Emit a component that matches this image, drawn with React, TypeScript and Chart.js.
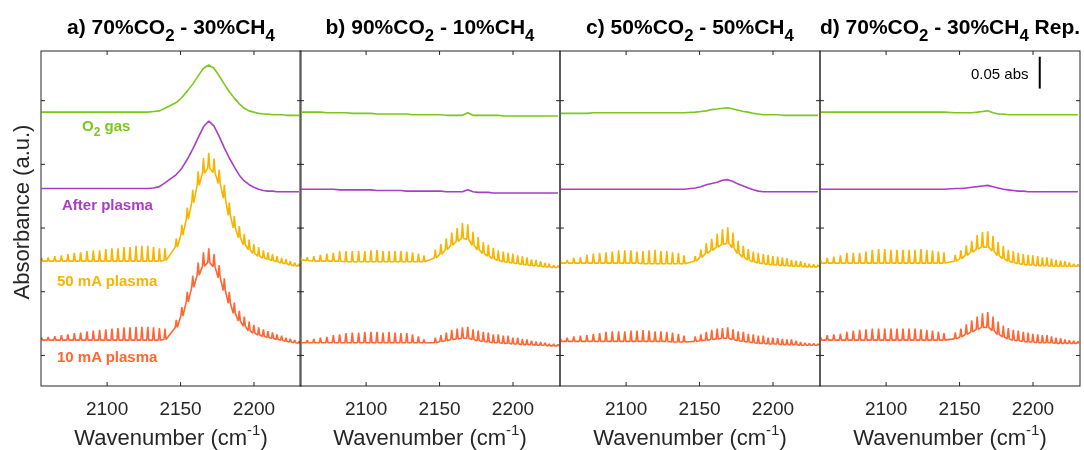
import React, { useEffect, useRef } from 'react';
import { Chart, registerables } from 'chart.js';

Chart.register(...registerables);

const FONT = '"Liberation Sans", Arial, Helvetica, sans-serif';

// ---------- data ----------
// CO rotational line positions (cm-1): P branch (P21..P1) then R branch (R0..R25)
const LINE_POSITIONS = [
  2055.4, 2059.9, 2064.4, 2068.9, 2073.3, 2077.7, 2082.0, 2086.3, 2090.6, 2094.9,
  2099.1, 2103.3, 2107.4, 2111.5, 2115.6, 2119.7, 2123.7, 2127.7, 2131.6, 2135.6, 2139.4,
  2147.1, 2150.9, 2154.6, 2158.3, 2162.0, 2165.6, 2169.2, 2172.8, 2176.3, 2179.8,
  2183.2, 2186.6, 2190.0, 2193.4, 2196.7, 2199.9, 2203.2, 2206.4, 2209.5, 2212.6,
  2215.7, 2218.8, 2221.8, 2224.7, 2227.7, 2230.6,
];
const X_TICKS = [2100, 2150, 2200];
const Y_TICKS = [0, 0.1, 0.2, 0.3, 0.4];
const X_MIN = 2055;
const X_MAX = 2232;
const Y_MIN = -0.048;
const Y_MAX = 0.478;

// vertical offsets of the stacked spectra (abs)
const OFFSET_O2 = 0.38;
const OFFSET_AFTER = 0.26;
const OFFSET_50 = 0.142;
const OFFSET_10 = 0.022;

// scale bar
const SCALE_BAR_X = 2204.6;
const SCALE_BAR_Y0 = 0.419;
const SCALE_BAR_LEN = 0.05;

// Spectra: envelope (mAbs relative to offset) at each line position, and line (spike) heights in mAbs
// Panel a) 70%CO2 - 30%CH4
const aO2 = [
  2, 2, 2, 2, 2, 2, 2, 2, 2, 2, 2, 2, 2, 2, 2, 2, 2, 2, 3, 4, 8,
  17, 25, 35, 46, 59, 71, 76, 71, 59, 46, 34, 24, 15, 8, 4, 2, 0, -1, -1, -2, -2, -2, -3, -3, -3, -3,
];
const aAfter = [
  2, 2, 2, 2, 2, 2, 2, 2, 2, 2, 2, 2, 2, 2, 2, 2, 2, 2, 3, 5, 11,
  24, 34, 48, 64, 82, 99, 108, 100, 84, 66, 50, 36, 23, 14, 8, 4, 1, -1, -2, -2, -3, -3, -3, -3, -3, -3,
];
const a50 = [
  6, 6, 6, 6, 6, 6, 6, 6, 6, 6, 6, 6, 6, 6, 6, 6, 6, 6, 6, 6, 7,
  28, 47, 72, 98, 125, 144, 152, 145, 128, 105, 78, 58, 43, 32, 24, 18, 14, 11, 9, 7, 5, 3, 2, 0, -1, -2,
];
const a50Lines = [
  5, 6, 8, 9, 11, 13, 14, 16, 17, 17, 19, 20, 20, 22, 22, 24, 24, 24, 22, 20, 19,
  14, 16, 18, 20, 22, 24, 24, 22, 22, 21, 20, 19, 18, 17, 16, 15, 14, 12, 11, 10, 9, 8, 7, 6, 5, 4,
];
const a10 = [
  2, 2, 2, 2, 2, 2, 2, 2, 2, 2, 2, 2, 2, 2, 2, 2, 2, 2, 2, 2, 3,
  22, 40, 62, 85, 104, 118, 124, 117, 100, 80, 60, 44, 32, 24, 17, 13, 10, 8, 6, 5, 3, 2, 0, -1, -2, -3,
];
const a10Lines = [
  4, 5, 6, 8, 9, 11, 12, 14, 15, 16, 17, 18, 19, 20, 20, 21, 21, 21, 20, 19, 17,
  12, 14, 16, 18, 20, 22, 22, 20, 20, 19, 18, 17, 16, 15, 14, 13, 12, 11, 10, 9, 8, 7, 6, 5, 4, 3,
];

// Panel b) 90%CO2 - 10%CH4
const bO2 = [
  2, 2, 2, 2, 1, 1, 1, 1, 0, 0, 0, 0, -1, -1, -1, -1, -1, -1, -2, -2, -2,
  -2, -2, -3, -3, -3, -3, 1, -3, -3, -3, -3, -3, -3, -4, -4, -4, -4, -4, -4, -4, -4, -4, -4, -4, -4, -4,
];
const bAfter = [
  1, 1, 1, 1, 1, 1, 0, 0, 0, 0, 0, 0, -1, -1, -1, -1, -1, -2, -2, -2, -2,
  -2, -2, -3, -3, -3, -3, 0, -3, -4, -4, -4, -5, -5, -5, -5, -5, -5, -5, -5, -5, -5, -5, -5, -5, -5, -5,
];
const b50 = [
  8, 7, 6, 6, 6, 6, 6, 5, 5, 5, 5, 5, 5, 5, 5, 5, 5, 5, 5, 5, 5,
  11, 17, 24, 31, 37, 42, 40, 31, 24, 18, 14, 10, 7, 5, 4, 3, 2, 1, 0, -1, -1, -2, -3, -3, -4, -4,
];
const b50Lines = [
  4, 5, 8, 10, 12, 13, 16, 17, 17, 17, 17, 18, 19, 17, 17, 17, 17, 16, 15, 13, 10,
  13, 16, 18, 20, 21, 24, 24, 21, 20, 18, 18, 17, 16, 16, 15, 15, 13, 13, 12, 10, 9, 8, 6, 5, 4, 3,
];
const b10 = [
  -2, -2, -2, -2, -2, -2, -2, -2, -2, -2, -2, -2, -2, -2, -2, -2, -2, -2, -2, -2, -2,
  -2, 0, 1, 3, 4, 5, 5, 3, 1, 0, -1, -2, -2, -3, -3, -4, -4, -5, -5, -5, -6, -6, -6, -7, -7, -7,
];
const b10Lines = [
  3, 4, 6, 8, 9, 12, 13, 15, 16, 16, 17, 17, 17, 16, 17, 16, 15, 15, 13, 10, 5,
  8, 10, 13, 15, 16, 17, 18, 16, 16, 15, 15, 13, 13, 12, 12, 10, 10, 9, 8, 6, 6, 5, 4, 3, 3, 2,
];

// Panel c) 50%CO2 - 50%CH4
const cO2 = [
  0, 0, 0, 0, 0, 1, 1, 1, 1, 1, 1, 1, 1, 1, 1, 1, 1, 1, 1, 1, 1,
  2, 3, 4, 6, 7, 8, 9, 7, 5, 3, 2, 0, -1, -2, -2, -2, -2, -3, -3, -3, -3, -3, -3, -3, -3, -3,
];
const cAfter = [
  1, 1, 1, 1, 1, 1, 1, 1, 1, 1, 1, 1, 1, 1, 1, 1, 1, 1, 1, 1, 1,
  3, 5, 8, 10, 12, 15, 16, 13, 9, 6, 3, 0, -2, -3, -3, -3, -3, -3, -3, -3, -3, -3, -3, -3, -3, -3,
];
const c50 = [
  3, 3, 3, 3, 3, 3, 3, 3, 3, 3, 3, 3, 3, 2, 2, 2, 2, 2, 2, 2, 2,
  6, 12, 18, 23, 28, 32, 34, 27, 18, 12, 8, 5, 3, 2, 1, 0, 0, -1, -1, -2, -2, -2, -3, -3, -3, -3,
];
const c50Lines = [
  3, 5, 8, 9, 13, 15, 16, 17, 18, 20, 20, 20, 18, 20, 21, 22, 20, 20, 18, 17, 13,
  8, 12, 16, 18, 21, 24, 25, 24, 20, 18, 17, 16, 16, 15, 15, 14, 13, 13, 12, 10, 9, 8, 6, 5, 4, 3,
];
const c10 = [
  0, 0, 0, 0, 0, 0, 0, 0, 0, 0, 0, 0, 0, 0, 0, 0, 0, 0, -1, -1, -1,
  0, 1, 2, 3, 4, 5, 5, 3, 1, 0, -1, -2, -3, -3, -4, -4, -4, -5, -5, -5, -5, -6, -6, -6, -6, -6,
];
const c10Lines = [
  4, 6, 8, 9, 10, 12, 13, 15, 16, 16, 16, 17, 17, 18, 17, 16, 16, 15, 15, 13, 10,
  8, 10, 13, 15, 16, 16, 17, 16, 15, 15, 13, 13, 12, 12, 10, 10, 9, 9, 8, 8, 6, 5, 4, 3, 3, 2,
];

// Panel d) 70%CO2 - 30%CH4 Rep.
const dO2 = [
  2, 2, 2, 2, 2, 2, 2, 2, 2, 2, 2, 2, 2, 2, 2, 2, 2, 2, 2, 2, 2,
  1, 1, 1, 1, 2, 3, 4, 1, -1, -1, -2, -2, -2, -2, -2, -2, -2, -2, -2, -2, -2, -2, -2, -2, -2, -2,
];
const dAfter = [
  1, 1, 1, 1, 1, 1, 1, 1, 1, 1, 1, 1, 1, 1, 1, 1, 1, 1, 1, 1, 1,
  2, 2, 3, 4, 5, 6, 7, 5, 3, 1, 0, -1, -2, -2, -3, -3, -3, -3, -3, -3, -3, -3, -3, -3, -3, -3,
];
const d50 = [
  3, 3, 3, 3, 3, 3, 3, 3, 3, 3, 3, 3, 3, 3, 3, 3, 3, 3, 3, 3, 3,
  6, 10, 15, 20, 25, 28, 28, 22, 15, 10, 6, 4, 2, 1, 0, 0, -1, -1, -1, -2, -2, -2, -2, -2, -2, -2,
];
const d50Lines = [
  5, 8, 10, 12, 16, 16, 16, 18, 21, 22, 22, 21, 21, 21, 21, 21, 22, 21, 20, 18, 17,
  10, 13, 16, 18, 22, 24, 25, 24, 21, 20, 18, 18, 17, 16, 16, 15, 15, 13, 13, 12, 10, 9, 8, 6, 4, 3,
];
const d10 = [
  2, 2, 2, 2, 2, 2, 2, 2, 2, 2, 2, 2, 2, 2, 2, 2, 2, 2, 2, 2, 2,
  4, 7, 11, 15, 19, 22, 22, 17, 11, 7, 4, 2, 1, 0, -1, -1, -2, -2, -2, -2, -3, -3, -3, -3, -3, -3,
];
const d10Lines = [
  5, 8, 9, 10, 13, 15, 16, 17, 18, 18, 18, 18, 18, 18, 18, 18, 17, 16, 15, 13, 11,
  10, 13, 16, 18, 20, 22, 24, 22, 20, 18, 17, 16, 16, 15, 15, 13, 13, 12, 12, 10, 9, 8, 6, 5, 4, 3,
];

// ---------- styles ----------
const COLOR_O2 = '#7AC81A';
const COLOR_AFTER = '#A93CC8';
const COLOR_50 = '#F7B500';
const COLOR_10 = '#FF6633';
const AXIS_COLOR = '#262626';
const SPIKE_HALF = 0.7;
const TRACE_WIDTH = 1.6;

const PANEL_LEFTS = [41, 300, 560, 820];
const PANEL_W = 260;
const PAD = 10;

function buildTrace(offset: number, base: number[], lines: number[] | null) {
  const pts: { x: number; y: number }[] = [];
  LINE_POSITIONS.forEach((wn, i) => {
    const b = offset + (base[i] ?? 0) / 1000;
    if (lines) {
      pts.push({ x: wn - SPIKE_HALF, y: b });
      pts.push({ x: wn, y: b + (lines[i] ?? 0) / 1000 });
      pts.push({ x: wn + SPIKE_HALF, y: b });
    } else {
      pts.push({ x: wn, y: b });
    }
  });
  return pts;
}

function ds(data: any[], color: string, width = TRACE_WIDTH) {
  return {
    data,
    borderColor: color,
    borderWidth: width,
    pointRadius: 0,
    tension: 0,
    fill: false,
    borderJoinStyle: 'bevel',
  };
}

const PANELS = [
  [buildTrace(OFFSET_O2, aO2, null), buildTrace(OFFSET_AFTER, aAfter, null), buildTrace(OFFSET_50, a50, a50Lines), buildTrace(OFFSET_10, a10, a10Lines)],
  [buildTrace(OFFSET_O2, bO2, null), buildTrace(OFFSET_AFTER, bAfter, null), buildTrace(OFFSET_50, b50, b50Lines), buildTrace(OFFSET_10, b10, b10Lines)],
  [buildTrace(OFFSET_O2, cO2, null), buildTrace(OFFSET_AFTER, cAfter, null), buildTrace(OFFSET_50, c50, c50Lines), buildTrace(OFFSET_10, c10, c10Lines)],
  [buildTrace(OFFSET_O2, dO2, null), buildTrace(OFFSET_AFTER, dAfter, null), buildTrace(OFFSET_50, d50, d50Lines), buildTrace(OFFSET_10, d10, d10Lines)],
];
const TRACE_COLORS = [COLOR_O2, COLOR_AFTER, COLOR_50, COLOR_10];

const framePlugin = {
  id: 'frame',
  afterDatasetsDraw(chart: any) {
    const { ctx, chartArea, scales } = chart;
    const { left, right, top, bottom } = chartArea;
    const x = scales.x;
    const y = scales.y;
    ctx.save();
    ctx.strokeStyle = AXIS_COLOR;
    ctx.lineWidth = 1;
    ctx.strokeRect(left, top, right - left, bottom - top);
    ctx.beginPath();
    const tl = 4;
    X_TICKS.forEach((v) => {
      const px = x.getPixelForValue(v);
      ctx.moveTo(px, bottom);
      ctx.lineTo(px, bottom - tl);
      ctx.moveTo(px, top);
      ctx.lineTo(px, top + tl);
    });
    Y_TICKS.forEach((v) => {
      const py = y.getPixelForValue(v);
      ctx.moveTo(left, py);
      ctx.lineTo(left + tl, py);
      ctx.moveTo(right, py);
      ctx.lineTo(right - tl, py);
    });
    ctx.stroke();
    ctx.restore();
  },
};

function Panel({ index }: { index: number }) {
  const ref = useRef<HTMLCanvasElement | null>(null);
  useEffect(() => {
    if (!ref.current) return;
    const datasets: any[] = PANELS[index].map((d, i) => ds(d, TRACE_COLORS[i]));
    if (index === 3) {
      datasets.push(
        ds(
          [
            { x: SCALE_BAR_X, y: SCALE_BAR_Y0 },
            { x: SCALE_BAR_X, y: SCALE_BAR_Y0 + SCALE_BAR_LEN },
          ],
          '#000000',
          2
        )
      );
    }
    const chart = new Chart(ref.current, {
      type: 'line',
      data: { datasets },
      options: {
        animation: false,
        responsive: false,
        devicePixelRatio: 1,
        layout: { padding: { left: PAD, right: PAD, top: 51, bottom: 0 } },
        plugins: {
          legend: { display: false },
          tooltip: { enabled: false },
          title: { display: false },
        },
        scales: {
          x: {
            type: 'linear',
            min: X_MIN,
            max: X_MAX,
            grid: { display: false, drawTicks: false },
            border: { display: false },
            afterBuildTicks: (s: any) => {
              s.ticks = X_TICKS.map((v) => ({ value: v }));
            },
            afterFit: (s: any) => {
              s.height = 64;
            },
            ticks: {
              font: { size: 19, family: FONT },
              color: AXIS_COLOR,
              padding: 12,
              maxRotation: 0,
              autoSkip: false,
              callback: (v: any) => String(v),
            },
          },
          y: { type: 'linear', display: false, min: Y_MIN, max: Y_MAX },
        },
      } as any,
      plugins: [framePlugin],
    });
    return () => chart.destroy();
  }, [index]);
  return (
    <canvas
      ref={ref}
      width={PANEL_W + 2 * PAD}
      height={450}
      style={{ position: 'absolute', left: PANEL_LEFTS[index] - PAD, top: 0, width: PANEL_W + 2 * PAD, height: 450 }}
    />
  );
}

const subStyle: React.CSSProperties = { fontSize: '0.8em', position: 'relative', top: 7, verticalAlign: 'baseline' };
const TITLES: React.ReactNode[] = [
  <>a) 70%CO<span style={subStyle}>2</span> - 30%CH<span style={subStyle}>4</span></>,
  <>b) 90%CO<span style={subStyle}>2</span> - 10%CH<span style={subStyle}>4</span></>,
  <>c) 50%CO<span style={subStyle}>2</span> - 50%CH<span style={subStyle}>4</span></>,
  <>d) 70%CO<span style={subStyle}>2</span> - 30%CH<span style={subStyle}>4</span> Rep.</>,
];

const LABELS = [
  { text: <>O<span style={{ fontSize: '0.8em', position: 'relative', top: 5 }}>2</span> gas</>, left: 82, cy: 125.5, color: COLOR_O2 },
  { text: 'After plasma', left: 62, cy: 204, color: COLOR_AFTER },
  { text: '50 mA plasma', left: 57, cy: 280, color: COLOR_50 },
  { text: '10 mA plasma', left: 57, cy: 356, color: COLOR_10 },
];

export default function App() {
  useEffect(() => {
    document.body.style.margin = '0';
  }, []);
  return (
    <div
      style={{
        position: 'fixed',
        left: 0,
        top: 0,
        width: 1084,
        height: 450,
        background: '#ffffff',
        overflow: 'hidden',
        fontFamily: FONT,
      }}
    >
      {[0, 1, 2, 3].map((i) => (
        <Panel key={i} index={i} />
      ))}
      {TITLES.map((t, i) => (
        <div
          key={'t' + i}
          style={{
            position: 'absolute',
            left: PANEL_LEFTS[i] + PANEL_W / 2 - 160,
            width: 320,
            top: 16,
            textAlign: 'center',
            fontWeight: 'bold',
            fontSize: 21,
            lineHeight: '21px',
            color: '#000',
            whiteSpace: 'nowrap',
          }}
        >
          {t}
        </div>
      ))}
      {[0, 1, 2, 3].map((i) => (
        <div
          key={'xt' + i}
          style={{
            position: 'absolute',
            left: PANEL_LEFTS[i] + PANEL_W / 2 - 150,
            width: 300,
            top: 427,
            textAlign: 'center',
            fontSize: 22,
            lineHeight: '22px',
            color: AXIS_COLOR,
            whiteSpace: 'nowrap',
          }}
        >
          Wavenumber (cm<span style={{ fontSize: 15, position: 'relative', top: -10 }}>-1</span>)
        </div>
      ))}
      <div
        style={{
          position: 'absolute',
          left: 22 - 150,
          top: 212 - 11,
          width: 300,
          textAlign: 'center',
          fontSize: 22,
          lineHeight: '22px',
          color: AXIS_COLOR,
          transform: 'rotate(-90deg)',
          transformOrigin: 'center center',
          whiteSpace: 'nowrap',
        }}
      >
        Absorbance (a.u.)
      </div>
      {LABELS.map((l, i) => (
        <div
          key={'l' + i}
          style={{
            position: 'absolute',
            left: l.left,
            top: l.cy - 7.5,
            fontSize: 15,
            lineHeight: '15px',
            fontWeight: 'bold',
            color: l.color,
            whiteSpace: 'nowrap',
          }}
        >
          {l.text}
        </div>
      ))}
      <div
        style={{
          position: 'absolute',
          left: 971,
          top: 66,
          fontSize: 15,
          lineHeight: '15px',
          color: '#000',
          whiteSpace: 'nowrap',
        }}
      >
        0.05 abs
      </div>
    </div>
  );
}
